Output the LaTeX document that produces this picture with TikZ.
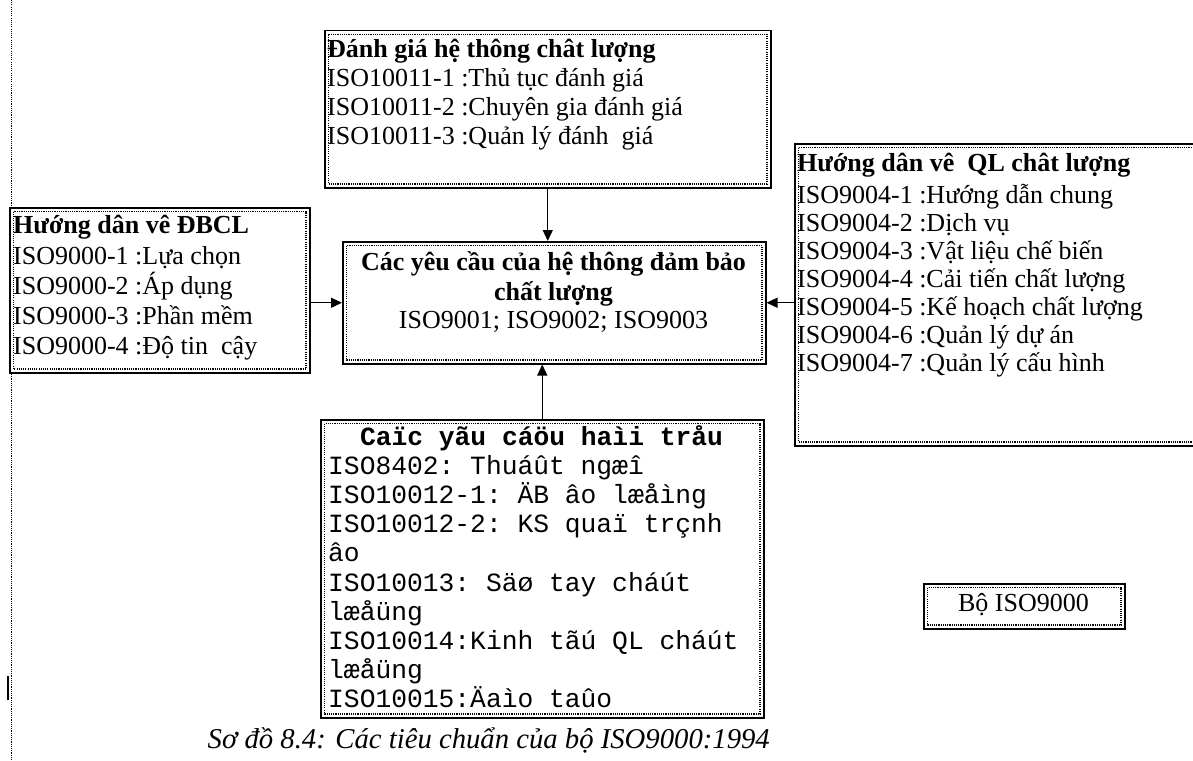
\documentclass[tikz,border=0pt]{standalone}
\usepackage{fontspec}
\setmainfont{Liberation Serif}
\setmonofont{Liberation Mono}
\usetikzlibrary{arrows.meta,calc}
\tikzset{
  box/.style={draw=black, line width=1.5pt, fill=white, inner sep=0pt, anchor=north west},
  innerline/.style={line width=1.1pt, dash pattern=on 1.1pt off 1.1pt},
  arr/.style={line width=1.3pt, -{Triangle[length=11pt,width=10pt]}},
  body/.style={anchor=base west, inner sep=0pt, font=\fontsize{26}{30}\selectfont},
  hdr/.style={anchor=base west, inner sep=0pt, font=\fontsize{26}{30}\selectfont\bfseries},
  mono/.style={anchor=base west, inner sep=0pt, font=\fontsize{26.3}{30}\selectfont\ttfamily},
  monohdr/.style={anchor=base, inner sep=0pt, font=\fontsize{26.3}{30}\selectfont\ttfamily\bfseries},
  captiontext/.style={anchor=base east, inner sep=0pt, font=\fontsize{28.7}{32}\selectfont\itshape},
}
\newcommand{\dotframe}[1]{\draw[innerline] ($(#1.north west)+(4.5,4.5)$) rectangle ($(#1.south east)+(-4.5,-4.5)$);}
\begin{document}
\begin{tikzpicture}[x=1pt,y=-1pt]
\useasboundingbox (0,0) rectangle (1193,760);
\clip (0,0) rectangle (1193,760);
% left page guide
\draw[line width=1.1pt, dash pattern=on 1.1pt off 1.1pt] (11.5,0) -- (11.5,760);
\draw[line width=2.5pt] (8,676) -- (8,700);
% boxes
\node[box, minimum width=446pt, minimum height=157pt] (top) at (324,30) {};
\node[box, minimum width=300pt, minimum height=165pt] (lb) at (9,207) {};
\node[box, minimum width=423pt, minimum height=122pt] (ctr) at (342,241) {};
\node[box, minimum width=420pt, minimum height=302pt] (rb) at (794,143) {};
\node[box, minimum width=443pt, minimum height=298pt] (bot) at (320,419) {};
\node[box, minimum width=201pt, minimum height=45pt] (bo) at (923,583) {};
% top box text
\node[hdr] (t0) at (327,57) {Đánh giá hệ thông chât lượng};
\node[body] (t1) at (327,86) {ISO10011-1 :Thủ tục đánh giá};
\node[body] (t2) at (327,115) {ISO10011-2 :Chuyên gia đánh giá};
\node[body] (t3) at (327,144) {ISO10011-3 :Quản lý đánh\ \ giá};
% left box text
\node[hdr] (l0) at (13,233) {Hướng dân vê ĐBCL};
\node[body] (l1) at (13,264) {ISO9000-1 :Lựa chọn};
\node[body] (l2) at (13,294) {ISO9000-2 :Áp dụng};
\node[body] (l3) at (13,324) {ISO9000-3 :Phần mềm};
\node[body] (l4) at (13,354) {ISO9000-4 :Độ tin\ \ cậy};
% right box text
\node[hdr] (r0) at (797,171) {Hướng dân vê\ \ QL chât lượng};
\node[body] (r1) at (797,203) {ISO9004-1 :Hướng dẫn chung};
\node[body] (r2) at (797,231) {ISO9004-2 :Dịch vụ};
\node[body] (r3) at (797,259) {ISO9004-3 :Vật liệu chế biến};
\node[body] (r4) at (797,287) {ISO9004-4 :Cải tiến chất lượng};
\node[body] (r5) at (797,315) {ISO9004-5 :Kế hoạch chất lượng};
\node[body] (r6) at (797,343) {ISO9004-6 :Quản lý dự án};
\node[body] (r7) at (797,371) {ISO9004-7 :Quản lý cấu hình};
% center box text
\node[hdr, anchor=base] (c0) at (553.5,270) {Các yêu cầu của hệ thông đảm bảo};
\node[hdr, anchor=base] (c1) at (553.5,300) {chất lượng};
\node[body, anchor=base] (c2) at (553.5,328) {ISO9001; ISO9002; ISO9003};
% bottom box text
\node[monohdr] (b0) at (541.5,445) {Caïc yãu cáöu haìi tråu};
\node[mono] (b1) at (328,474.2) {ISO8402: Thuáût ngæî};
\node[mono] (b2) at (328,503.4) {ISO10012-1: ÄB âo læåìng};
\node[mono] (b3) at (328,532.6) {ISO10012-2: KS quaï trçnh};
\node[mono] (b4) at (328,561.8) {âo};
\node[mono] (b5) at (328,591) {ISO10013: Säø tay cháút};
\node[mono] (b6) at (328,620.2) {læåüng};
\node[mono] (b7) at (328,649.4) {ISO10014:Kinh tãú QL cháút};
\node[mono] (b8) at (328,678.6) {læåüng};
\node[mono] (b9) at (328,707.8) {ISO10015:Äaìo taûo};
% small box text
\node[body, anchor=base] (bot0) at (1023.5,611) {Bộ ISO9000};
% dotted inner frames
\dotframe{top}
\dotframe{lb}
\dotframe{ctr}
\dotframe{rb}
\dotframe{bot}
\dotframe{bo}
% connectors
\draw[arr] (top.south) -- (top.south |- ctr.north);
\draw[arr] (lb.east |- ctr.west) -- (ctr.west);
\draw[arr] (rb.west |- ctr.east) -- (ctr.east);
\draw[arr] (bot.north) -- (bot.north |- ctr.south);
% caption
\node[captiontext] (capt) at (770,748) {Sơ đồ 8.4: Các tiêu chuẩn của bộ ISO9000:1994};
\end{tikzpicture}
\end{document}
